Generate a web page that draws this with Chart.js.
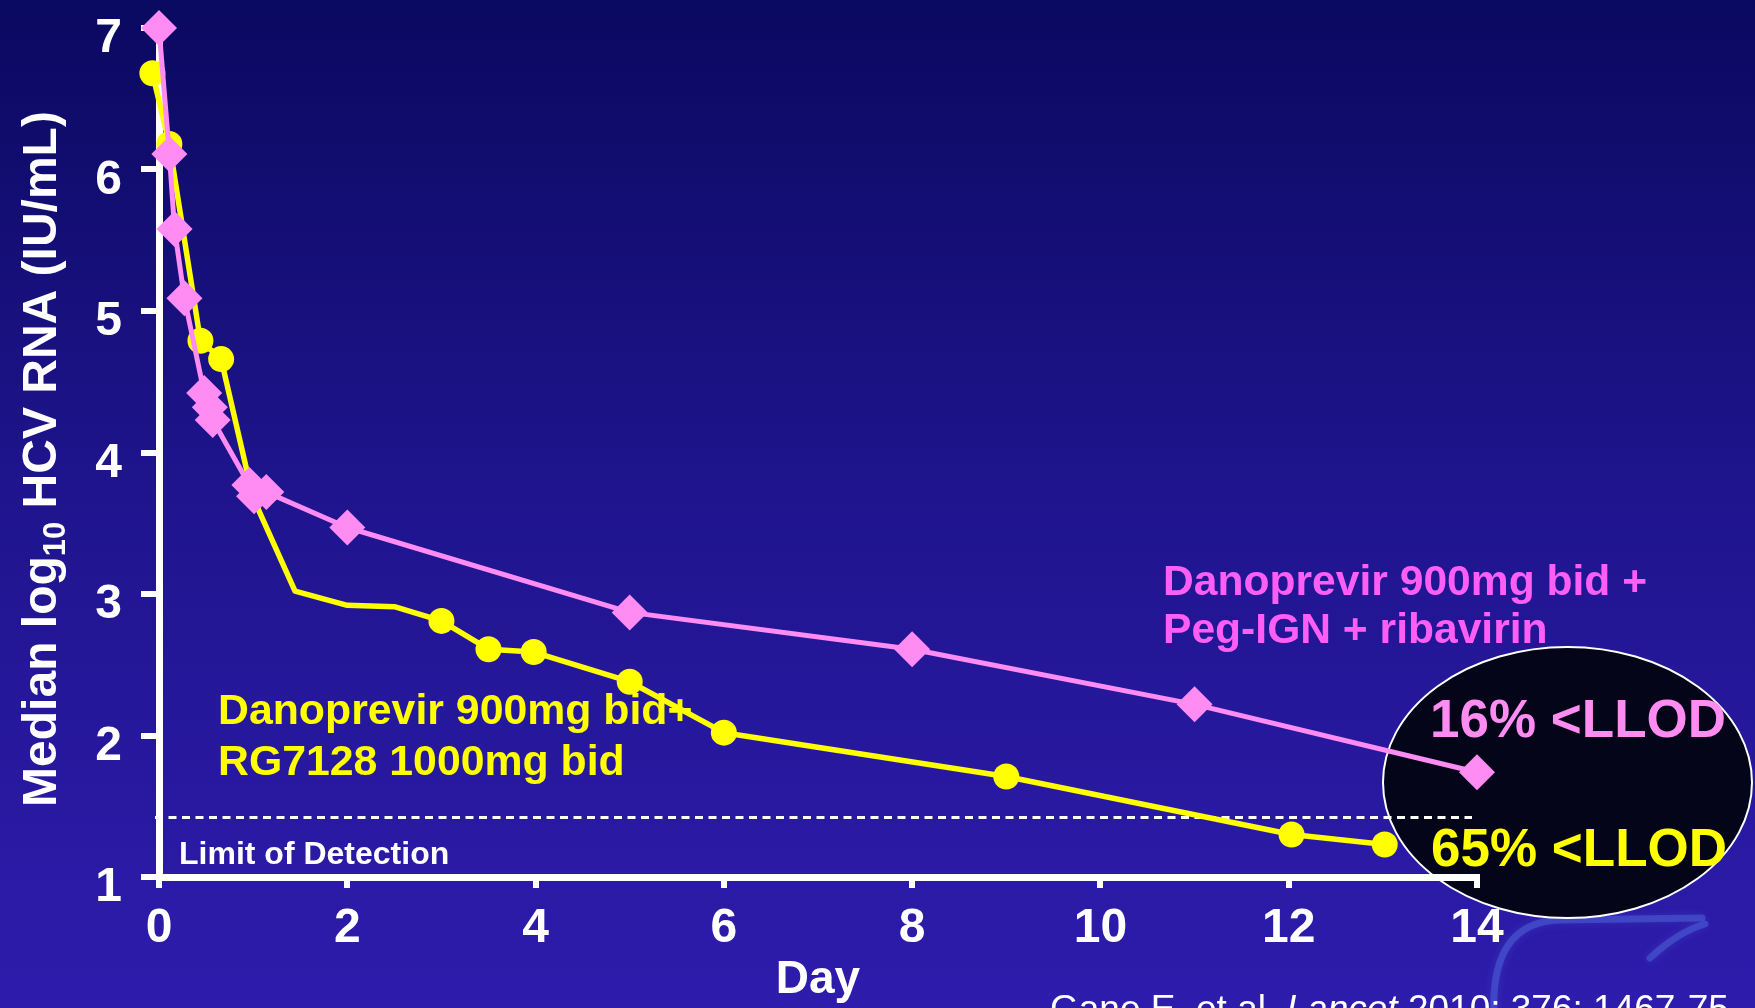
<!DOCTYPE html>
<html>
<head>
<meta charset="utf-8">
<script src="https://cdn.jsdelivr.net/npm/chart.js@4.4.1/dist/chart.umd.min.js"></script>
<style>
  html, body { margin: 0; padding: 0; background: #1a1280; overflow: hidden; }
  canvas { display: block; }
</style>
</head>
<body>
<canvas id="c" width="1755" height="1008"></canvas>
<script>
// Danoprevir + Peg-IFN + ribavirin arm (median log10 HCV RNA by day)
const pinkDays = [0, 0.11, 0.165, 0.27, 0.48, 0.54, 0.57, 0.96, 1.01, 1.14, 2, 5, 8, 11, 14];
const pinkRNA  = [7.0, 6.11, 5.58, 5.09, 4.42, 4.32, 4.23, 3.77, 3.69, 3.72, 3.47, 2.87, 2.61, 2.22, 1.74];

// Danoprevir + RG7128 arm
const yellowDays   = [-0.07, 0.11, 0.44, 0.66, 1.0, 1.445, 2.0, 2.5, 3.0, 3.5, 3.98, 5.0, 6.0, 9.0, 12.03, 13.02];
const yellowRNA    = [6.68, 6.18, 4.79, 4.66, 3.68, 3.02, 2.92, 2.91, 2.81, 2.61, 2.59, 2.38, 2.02, 1.71, 1.30, 1.23];
const yellowMarked = [true, true, true, true, false, false, false, false, true, true, true, true, true, true, true, true];

const dayTicks = [0, 2, 4, 6, 8, 10, 12, 14];
const rnaTicks = [1, 2, 3, 4, 5, 6, 7];
const detectionLimit = 1.42;

const FONT = "'Liberation Sans', Arial, Helvetica, sans-serif";
const PINK = '#ff8cf2';
const YELLOW = '#ffff00';

const toPoints = (xs, ys) => xs.map((x, i) => ({ x, y: ys[i] }));

const slideDecor = {
  id: 'slideDecor',
  beforeDraw(chart) {
    const { ctx, width, height } = chart;
    ctx.save();
    const g = ctx.createLinearGradient(0, 0, 0, height);
    g.addColorStop(0, '#0a0960');
    g.addColorStop(0.47, '#1e148c');
    g.addColorStop(1, '#2e1cad');
    ctx.fillStyle = g;
    ctx.fillRect(0, 0, width, height);

    // faint logo swoosh in the corner
    ctx.strokeStyle = 'rgba(95,140,245,0.32)';
    ctx.lineWidth = 7;
    ctx.lineCap = 'round';
    ctx.shadowColor = 'rgba(110,150,255,0.5)';
    ctx.shadowBlur = 9;
    ctx.beginPath();
    ctx.moveTo(1494, 1015);
    ctx.quadraticCurveTo(1490, 922, 1560, 920);
    ctx.lineTo(1702, 918);
    ctx.stroke();
    ctx.beginPath();
    ctx.moveTo(1650, 958);
    ctx.quadraticCurveTo(1678, 932, 1705, 924);
    ctx.stroke();
    ctx.shadowBlur = 0;

    // dark callout ellipse
    ctx.beginPath();
    ctx.ellipse(1567.5, 782.5, 184.5, 135.5, 0, 0, Math.PI * 2);
    ctx.fillStyle = '#05051a';
    ctx.fill();
    ctx.lineWidth = 2;
    ctx.strokeStyle = '#ffffff';
    ctx.stroke();
    ctx.restore();
  },
  beforeDatasetsDraw(chart) {
    const { ctx } = chart;
    const y = chart.scales.y.getPixelForValue(detectionLimit);
    ctx.save();
    ctx.strokeStyle = '#ffffff';
    ctx.lineWidth = 3;
    ctx.setLineDash([8, 5.5]);
    ctx.beginPath();
    ctx.moveTo(155, y);
    ctx.lineTo(1472, y);
    ctx.stroke();
    ctx.restore();
  },
  afterDraw(chart) {
    const { ctx } = chart;
    ctx.save();
    ctx.textAlign = 'left';
    ctx.textBaseline = 'alphabetic';

    ctx.fillStyle = '#ff5ef5';
    ctx.font = `bold 42.6px ${FONT}`;
    ctx.fillText('Danoprevir 900mg bid +', 1163, 595);
    ctx.fillText('Peg-IGN + ribavirin', 1163, 643);

    ctx.fillStyle = YELLOW;
    ctx.font = `bold 42.8px ${FONT}`;
    ctx.fillText('Danoprevir 900mg bid+', 218, 724);
    ctx.fillText('RG7128 1000mg bid', 218, 775);

    ctx.fillStyle = '#ffffff';
    ctx.font = `bold 32px ${FONT}`;
    ctx.fillText('Limit of Detection', 179, 864);

    ctx.font = `bold 53px ${FONT}`;
    ctx.fillStyle = '#ff8cf0';
    ctx.fillText('16% <LLOD', 1430, 737);
    ctx.fillStyle = YELLOW;
    ctx.fillText('65% <LLOD', 1431, 866);

    // rotated y-axis title with subscript
    ctx.fillStyle = '#ffffff';
    const big = `bold 48px ${FONT}`, small = `bold 31px ${FONT}`;
    const p1 = 'Median log', p2 = '10', p3 = ' HCV RNA (IU/mL)';
    ctx.font = big; const w1 = ctx.measureText(p1).width, w3 = ctx.measureText(p3).width;
    ctx.font = small; const w2 = ctx.measureText(p2).width;
    const total = w1 + w2 + w3;
    ctx.translate(56, 459);
    ctx.rotate(-Math.PI / 2);
    let x = -total / 2;
    ctx.font = big; ctx.fillText(p1, x, 0); x += w1;
    ctx.font = small; ctx.fillText(p2, x, 9); x += w2;
    ctx.font = big; ctx.fillText(p3, x, 0);
    ctx.setTransform(1, 0, 0, 1, 0, 0);

    // citation
    ctx.fillStyle = '#ffffff';
    let cx = 1050;
    const parts = [['Gane E, et al. ', 'normal'], ['Lancet', 'italic'], [' 2010; 376: 1467-75', 'normal']];
    for (const [t, st] of parts) {
      ctx.font = `${st} 37px ${FONT}`;
      ctx.fillText(t, cx, 1021);
      cx += ctx.measureText(t).width;
    }
    ctx.restore();
  }
};

Chart.defaults.font.family = FONT;

new Chart(document.getElementById('c'), {
  type: 'line',
  data: {
    datasets: [
      {
        label: 'Danoprevir 900mg bid + Peg-IGN + ribavirin',
        data: toPoints(pinkDays, pinkRNA),
        borderColor: PINK,
        backgroundColor: PINK,
        borderWidth: 5,
        borderJoinStyle: 'round',
        pointStyle: 'rectRot',
        pointRadius: 18,
        pointBorderWidth: 0,
        pointBackgroundColor: PINK,
        pointBorderColor: PINK,
        tension: 0,
        clip: false,
        order: 0
      },
      {
        label: 'Danoprevir 900mg bid + RG7128 1000mg bid',
        data: toPoints(yellowDays, yellowRNA),
        borderColor: YELLOW,
        backgroundColor: YELLOW,
        borderWidth: 5.5,
        borderJoinStyle: 'round',
        pointStyle: 'circle',
        pointRadius: yellowMarked.map(m => (m ? 13 : 0)),
        pointBorderWidth: 0,
        pointBackgroundColor: YELLOW,
        pointBorderColor: YELLOW,
        tension: 0,
        clip: false,
        order: 1
      }
    ]
  },
  plugins: [slideDecor],
  options: {
    responsive: false,
    animation: false,
    devicePixelRatio: 1,
    layout: { padding: { left: 0, top: 28, right: 278, bottom: 0 } },
    plugins: { legend: { display: false }, tooltip: { enabled: false } },
    scales: {
      x: {
        type: 'linear',
        min: 0,
        max: 14,
        afterBuildTicks: s => { s.ticks = dayTicks.map(v => ({ value: v })); },
        afterFit: s => { s.height = 131; s.paddingLeft = 0; s.paddingRight = 0; s.paddingTop = 0; s.paddingBottom = 0; },
        ticks: { color: '#ffffff', font: { size: 48, weight: 'bold' }, padding: 12, maxRotation: 0, autoSkip: false },
        grid: { drawOnChartArea: false, drawTicks: true, tickLength: 11, color: '#ffffff', tickColor: '#ffffff', lineWidth: 6, tickWidth: 6 },
        border: { display: true, color: '#ffffff', width: 7 },
        title: { display: true, text: 'Day', color: '#ffffff', font: { size: 46, weight: 'bold' }, padding: { top: 0, bottom: 0 } }
      },
      y: {
        type: 'linear',
        min: 1,
        max: 7,
        afterBuildTicks: s => { s.ticks = rnaTicks.map(v => ({ value: v })); },
        afterFit: s => { s.width = 159; s.paddingLeft = 0; s.paddingRight = 0; s.paddingTop = 0; s.paddingBottom = 0; },
        ticks: { color: '#ffffff', font: { size: 48, weight: 'bold' }, padding: 19, labelOffset: 11, autoSkip: false },
        grid: { drawOnChartArea: false, drawTicks: true, tickLength: 18, color: '#ffffff', tickColor: '#ffffff', lineWidth: 6, tickWidth: 6 },
        border: { display: true, color: '#ffffff', width: 7 }
      }
    }
  }
});
</script>
</body>
</html>
